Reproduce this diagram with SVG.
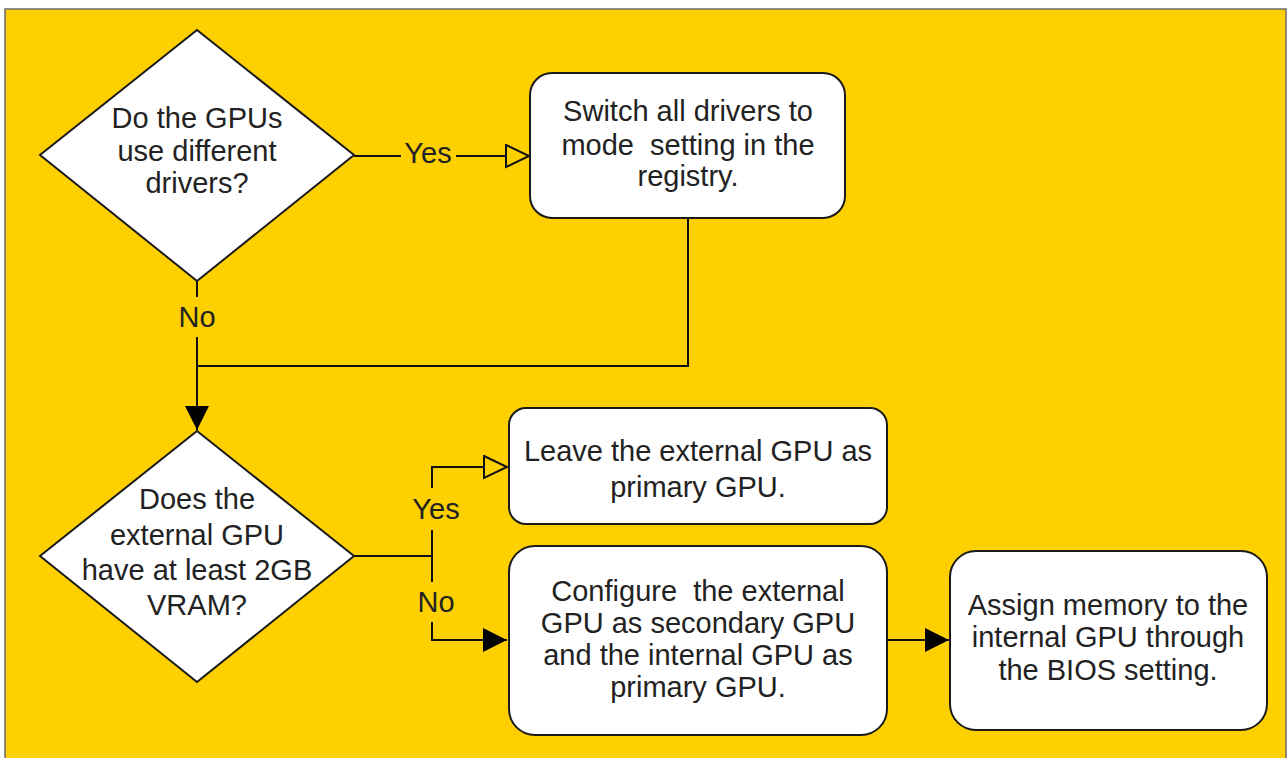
<svg xmlns="http://www.w3.org/2000/svg" width="1287" height="758" viewBox="0 0 1287 758">
<style>
  .bg { fill: #FFD000; stroke: #6b6b6b; stroke-width: 1.5; }
  .shape { fill: #ffffff; stroke: #1a1a1a; stroke-width: 2; }
  .t { font-family: "Liberation Sans", Arial, sans-serif; font-size: 29px; fill: #222222; text-anchor: middle; }
  .edge { fill: none; stroke: #111111; stroke-width: 2; }
  .lblbg { fill: #FFD000; stroke: none; }
</style>
<defs>
  <marker id="open" markerUnits="userSpaceOnUse" markerWidth="28" markerHeight="28" refX="24" refY="12" orient="auto">
    <path d="M1,1 L24,12 L1,23 Z" fill="#FFD000" stroke="#111111" stroke-width="2"/>
  </marker>
  <marker id="fill" markerUnits="userSpaceOnUse" markerWidth="28" markerHeight="28" refX="24" refY="12" orient="auto">
    <path d="M0,0 L24,12 L0,24 Z" fill="#000000"/>
  </marker>
</defs>

<rect class="bg" x="5" y="9" width="1281" height="760"/>

<g id="connectors">
  <path class="edge" d="M354,156 L529,156" marker-end="url(#open)"/>
  <path class="edge" d="M197,281 L197,430" marker-end="url(#fill)"/>
  <path class="edge" d="M688,218 L688,366 L197,366"/>
  <path class="edge" d="M354,556 L432,556 L432,467 L507,467" marker-end="url(#open)"/>
  <path class="edge" d="M432,556 L432,640 L507,640" marker-end="url(#fill)"/>
  <path class="edge" d="M887,640 L949,640" marker-end="url(#fill)"/>
  <g id="edge-labels">
    <rect class="lblbg" x="401" y="140" width="55" height="26"/>
    <text class="t" x="428" y="163">Yes</text>
    <rect class="lblbg" x="181" y="297" width="32" height="40"/>
    <text class="t" x="197" y="327">No</text>
    <rect class="lblbg" x="408" y="488" width="56" height="42"/>
    <text class="t" x="436" y="519">Yes</text>
    <rect class="lblbg" x="418" y="582" width="38" height="40"/>
    <text class="t" x="436" y="612">No</text>
  </g>
</g>

<g id="q1">
  <polygon class="shape" points="197,30 354,155 197,281 40,155"/>
  <text class="t" x="197" y="128">Do the GPUs</text>
  <text class="t" x="197" y="161">use different</text>
  <text class="t" x="197" y="193">drivers?</text>
</g>

<g id="switch">
  <rect class="shape" x="530" y="73" width="315" height="145" rx="22" ry="22"/>
  <text class="t" x="688" y="121">Switch all drivers to</text>
  <text class="t" x="688" y="155" xml:space="preserve">mode  setting in the</text>
  <text class="t" x="688" y="186">registry.</text>
</g>

<g id="q2">
  <polygon class="shape" points="197,431 354,556 197,682 40,556"/>
  <text class="t" x="197" y="509">Does the</text>
  <text class="t" x="197" y="545">external GPU</text>
  <text class="t" x="197" y="580">have at least 2GB</text>
  <text class="t" x="197" y="615">VRAM?</text>
</g>

<g id="leave">
  <rect class="shape" x="509" y="408" width="378" height="116" rx="17" ry="17"/>
  <text class="t" x="698" y="461">Leave the external GPU as</text>
  <text class="t" x="698" y="497">primary GPU.</text>
</g>

<g id="configure">
  <rect class="shape" x="509" y="546" width="378" height="189" rx="26" ry="26"/>
  <text class="t" x="698" y="601" xml:space="preserve">Configure  the external</text>
  <text class="t" x="698" y="633">GPU as secondary GPU</text>
  <text class="t" x="698" y="665">and the internal GPU as</text>
  <text class="t" x="698" y="697">primary GPU.</text>
</g>

<g id="assign">
  <rect class="shape" x="950" y="551" width="317" height="179" rx="26" ry="26"/>
  <text class="t" x="1108" y="615">Assign memory to the</text>
  <text class="t" x="1108" y="647">internal GPU through</text>
  <text class="t" x="1108" y="680">the BIOS setting.</text>
</g>
</svg>
